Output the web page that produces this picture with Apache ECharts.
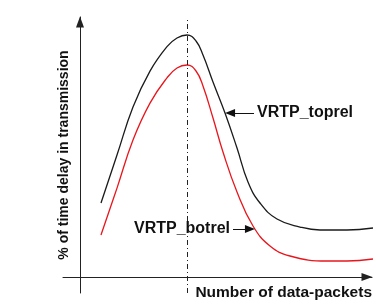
<!DOCTYPE html>
<html>
<head>
<meta charset="utf-8">
<script src="https://cdn.jsdelivr.net/npm/echarts@6/dist/echarts.min.js"></script>
<style>
  html, body { margin: 0; padding: 0; background: #ffffff; }
  #main { width: 376px; height: 306px; }
</style>
</head>
<body>
<div id="main"></div>
<script>
// values (x = packets, y = % delay, arbitrary units)
var toprel = [
  [7.19, 28.46], [12.67, 46.9], [18.15, 65.4], [23.97, 79.2], [29.79, 88.6],
  [33.22, 91.92], [36.64, 93.08], [39.73, 90.77], [42.12, 85.38], [45.55, 75.0],
  [49.66, 63.08], [53.77, 49.62], [57.53, 36.54], [61.64, 28.46], [67.47, 22.31],
  [75.34, 19.23], [82.19, 18.08], [91.44, 18.08], [100.34, 18.85]
];
var botrel = [
  [7.19, 16.15], [12.67, 34.2], [18.15, 52.7], [23.97, 66.9], [29.79, 76.6],
  [33.22, 80.38], [36.64, 81.54], [39.73, 79.23], [42.12, 73.46], [45.55, 61.15],
  [48.97, 48.08], [53.77, 32.69], [59.25, 19.62], [65.07, 11.92], [71.92, 8.08],
  [84.59, 6.15], [91.44, 6.15], [100.34, 6.92]
];
var peakX = 36.64;
var seriesNames = ['VRTP_toprel', 'VRTP_botrel'];

var font = '"Liberation Sans", Arial, sans-serif';

var chart = echarts.init(document.getElementById('main'));
var option = {
  animation: false,
  backgroundColor: '#ffffff',
  grid: { left: 63, right: 4, top: 17, bottom: 13, containLabel: false },
  xAxis: {
    type: 'value',
    min: -5.82,
    max: 100,
    name: 'Number of data-packets',
    nameLocation: 'end',
    nameGap: 0,
    nameTextStyle: {
      fontFamily: font, fontSize: 15.5, fontWeight: 'bold', color: '#111',
      align: 'right', verticalAlign: 'top', padding: [8, 0, 0, 0]
    },
    axisLine: {
      onZero: true,
      symbol: ['none', 'triangle'],
      symbolSize: [8, 11],
      symbolOffset: [0, -5],
      lineStyle: { color: '#222', width: 1 }
    },
    axisTick: { show: false },
    axisLabel: { show: false },
    splitLine: { show: false }
  },
  yAxis: {
    type: 'value',
    min: -6.15,
    max: 100,
    name: '% of time delay in transmission',
    nameLocation: 'middle',
    nameGap: -8,
    nameTextStyle: { fontFamily: font, fontSize: 14, fontWeight: 'bold', color: '#111' },
    axisLine: {
      onZero: true,
      symbol: ['none', 'triangle'],
      symbolSize: [8, 11],
      symbolOffset: [0, -5],
      lineStyle: { color: '#222', width: 1 }
    },
    axisTick: { show: false },
    axisLabel: { show: false },
    splitLine: { show: false }
  },
  series: [
    {
      name: seriesNames[0],
      type: 'line',
      data: toprel,
      smooth: 0.45,
      showSymbol: false,
      clip: false,
      lineStyle: { color: '#1a1a1a', width: 1.3 },
      markLine: {
        silent: true,
        symbol: ['none', 'none'],
        lineStyle: { color: '#222', width: 1, type: [5, 3, 1, 3] },
        label: { show: false },
        data: [[{ coord: [peakX, -6.15] }, { coord: [peakX, 100] }]]
      }
    },
    {
      name: seriesNames[1],
      type: 'line',
      data: botrel,
      smooth: 0.45,
      showSymbol: false,
      clip: false,
      lineStyle: { color: '#e8161c', width: 1.3 },
      markLine: {
        silent: true,
        symbol: ['none', 'triangle'],
        symbolSize: [8, 10],
        lineStyle: { color: '#111', width: 1, type: 'solid' },
        label: {
          show: true,
          position: 'start',
          distance: 3,
          fontFamily: font, fontSize: 16, fontWeight: 'bold', color: '#111',
          formatter: function (p) { return p.name; }
        },
        data: [
          [{ name: seriesNames[0], coord: [59.6, 63.1] }, { coord: [51.4, 63.1] }],
          [{ name: seriesNames[1], coord: [52.4, 18.5] }, { coord: [58.2, 18.5] }]
        ]
      }
    }
  ]
};
chart.setOption(option);
</script>
</body>
</html>
